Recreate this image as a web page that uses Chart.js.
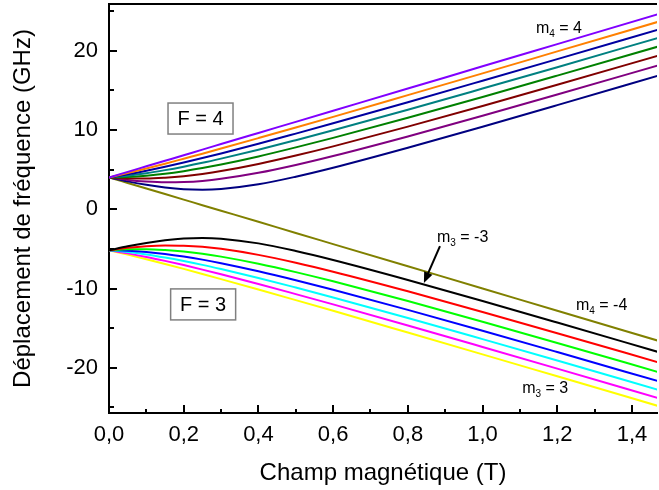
<!DOCTYPE html>
<html lang="fr">
<head>
<meta charset="utf-8">
<title>Déplacement Zeeman - F = 4 / F = 3</title>
<script src="https://cdn.jsdelivr.net/npm/chart.js@4.4.1/dist/chart.umd.min.js"></script>
<style>
  body { margin: 0; background: #fff; }
  #wrap { width: 659px; height: 490px; }
</style>
</head>
<body>
<div id="wrap"><canvas id="zeemanChart" width="659" height="490"></canvas></div>
<script>
// champ magnétique (T)
const fieldT = [0, 0.05, 0.1, 0.15, 0.2, 0.25, 0.3, 0.4, 0.5, 0.6, 0.8, 1.0, 1.2, 1.47];

// F = 4 (GHz), m4 = 4 ... -4
const f4_m4  = [4.02, 4.72, 5.42, 6.12, 6.82, 7.53, 8.23, 9.63, 11.03, 12.43, 15.23, 18.04, 20.84, 24.62];
const f4_m3  = [4.02, 4.57, 5.15, 5.75, 6.38, 7.01, 7.66, 8.98, 10.31, 11.66, 14.40, 17.15, 19.92, 23.66];
const f4_m2  = [4.02, 4.41, 4.86, 5.36, 5.90, 6.46, 7.05, 8.27, 9.55, 10.85, 13.51, 16.22, 18.95, 22.67];
const f4_m1  = [4.02, 4.24, 4.55, 4.94, 5.38, 5.86, 6.39, 7.51, 8.72, 9.97, 12.56, 15.23, 17.93, 21.63];
const f4_m0  = [4.02, 4.07, 4.23, 4.48, 4.81, 5.20, 5.65, 6.67, 7.81, 9.01, 11.54, 14.17, 16.86, 20.53];
const f4_mm1 = [4.02, 3.90, 3.88, 3.98, 4.17, 4.46, 4.82, 5.72, 6.78, 7.94, 10.43, 13.04, 15.71, 19.38];
const f4_mm2 = [4.02, 3.71, 3.51, 3.41, 3.44, 3.58, 3.84, 4.60, 5.59, 6.72, 9.19, 11.80, 14.48, 18.16];
const f4_mm3 = [4.02, 3.52, 3.09, 2.75, 2.53, 2.47, 2.56, 3.15, 4.11, 5.24, 7.76, 10.42, 13.14, 16.85];
const f4_mm4 = [4.02, 3.32, 2.62, 1.92, 1.22, 0.52, -0.18, -1.58, -2.99, -4.39, -7.19, -9.99, -12.80, -16.58];

// F = 3 (GHz), m3 = -3 ... 3
const f3_mm3 = [-5.17, -4.67, -4.24, -3.90, -3.68, -3.62, -3.71, -4.30, -5.26, -6.39, -8.91, -11.57, -14.29, -18.00];
const f3_mm2 = [-5.17, -4.86, -4.65, -4.56, -4.59, -4.73, -4.99, -5.75, -6.74, -7.87, -10.34, -12.95, -15.63, -19.30];
const f3_mm1 = [-5.17, -5.05, -5.03, -5.13, -5.32, -5.61, -5.97, -6.87, -7.93, -9.09, -11.58, -14.19, -16.86, -20.53];
const f3_m0  = [-5.17, -5.22, -5.38, -5.63, -5.96, -6.35, -6.80, -7.82, -8.95, -10.16, -12.69, -15.32, -18.01, -21.68];
const f3_m1  = [-5.17, -5.39, -5.70, -6.09, -6.53, -7.01, -7.54, -8.66, -9.87, -11.12, -13.71, -16.38, -19.08, -22.78];
const f3_m2  = [-5.17, -5.56, -6.01, -6.51, -7.04, -7.61, -8.20, -9.42, -10.70, -12.00, -14.66, -17.37, -20.10, -23.82];
const f3_m3  = [-5.17, -5.72, -6.30, -6.90, -7.52, -8.16, -8.81, -10.12, -11.46, -12.81, -15.55, -18.30, -21.07, -24.81];

const series = [
    { label: 'F=4, m=4',  data: f4_m4,  color: '#8000FF' },
    { label: 'F=4, m=3',  data: f4_m3,  color: '#FF8000' },
    { label: 'F=4, m=2',  data: f4_m2,  color: '#0000A0' },
    { label: 'F=4, m=1',  data: f4_m1,  color: '#008080' },
    { label: 'F=4, m=0',  data: f4_m0,  color: '#008000' },
    { label: 'F=4, m=-1', data: f4_mm1, color: '#800000' },
    { label: 'F=4, m=-2', data: f4_mm2, color: '#800080' },
    { label: 'F=4, m=-3', data: f4_mm3, color: '#000080' },
    { label: 'F=4, m=-4', data: f4_mm4, color: '#808000' },
    { label: 'F=3, m=-3', data: f3_mm3, color: '#000000' },
    { label: 'F=3, m=-2', data: f3_mm2, color: '#FF0000' },
    { label: 'F=3, m=-1', data: f3_mm1, color: '#00FF00' },
    { label: 'F=3, m=0',  data: f3_m0,  color: '#0000FF' },
    { label: 'F=3, m=1',  data: f3_m1,  color: '#00FFFF' },
    { label: 'F=3, m=2',  data: f3_m2,  color: '#FF00FF' },
    { label: 'F=3, m=3',  data: f3_m3,  color: '#FFFF00' }
];

const FONT = "'Liberation Sans', Arial, sans-serif";

// text boxes and m labels, placed in data units (T, GHz)
const boxes = [
    { text: 'F = 4', x: 0.245, y: 11.45 },
    { text: 'F = 3', x: 0.252, y: -12.0 }
];
const mLabels = [
    { sub: '4', rest: ' = 4',  x: 1.143, y: 22.2 },
    { sub: '4', rest: ' = -4', x: 1.250, y: -12.7 },
    { sub: '3', rest: ' = 3',  x: 1.106, y: -23.2 },
    { sub: '3', rest: ' = -3', x: 0.878, y: -4.1 }
];
const arrow = { from: [0.886, -4.65], to: [0.843, -9.3] };

const decorPlugin = {
    id: 'decor',
    afterDatasetsDraw(chart) {
        const ctx = chart.ctx;
        const a = chart.chartArea;
        const xs = chart.scales.x, ys = chart.scales.y;
        ctx.save();
        ctx.strokeStyle = '#000';
        ctx.lineWidth = 2;

        // top frame
        ctx.beginPath();
        ctx.moveTo(a.left - 1, a.top);
        ctx.lineTo(a.right, a.top);
        ctx.stroke();

        // inside ticks, x
        for (let i = 0; i <= 14; i++) {
            const px = Math.round(xs.getPixelForValue(i / 10));
            const len = i % 2 === 0 ? 8 : 4;
            ctx.beginPath();
            ctx.moveTo(px, a.bottom);
            ctx.lineTo(px, a.bottom - len);
            ctx.stroke();
        }
        // inside ticks, y
        for (let v = -25; v <= 25; v += 5) {
            const py = Math.round(ys.getPixelForValue(v));
            const len = v % 10 === 0 ? 8 : 5;
            ctx.beginPath();
            ctx.moveTo(a.left, py);
            ctx.lineTo(a.left + len, py);
            ctx.stroke();
        }

        // F boxes
        ctx.font = '20px ' + FONT;
        ctx.textAlign = 'center';
        ctx.textBaseline = 'middle';
        boxes.forEach(b => {
            const cx = xs.getPixelForValue(b.x), cy = ys.getPixelForValue(b.y);
            ctx.fillStyle = '#fff';
            ctx.fillRect(cx - 32.5, cy - 15.5, 65, 31);
            ctx.strokeStyle = '#808080';
            ctx.lineWidth = 1.5;
            ctx.strokeRect(cx - 32.5, cy - 15.5, 65, 31);
            ctx.fillStyle = '#000';
            ctx.fillText(b.text, cx, cy + 1);
        });

        // m labels with subscript
        ctx.textAlign = 'left';
        ctx.textBaseline = 'alphabetic';
        ctx.fillStyle = '#000';
        mLabels.forEach(l => {
            let px = xs.getPixelForValue(l.x);
            const py = ys.getPixelForValue(l.y);
            ctx.font = '16px ' + FONT;
            ctx.fillText('m', px, py);
            px += ctx.measureText('m').width;
            ctx.font = '10px ' + FONT;
            ctx.fillText(l.sub, px, py + 4);
            px += ctx.measureText(l.sub).width;
            ctx.font = '16px ' + FONT;
            ctx.fillText(l.rest, px, py);
        });

        // arrow to m3 = -3
        const x0 = xs.getPixelForValue(arrow.from[0]), y0 = ys.getPixelForValue(arrow.from[1]);
        const x1 = xs.getPixelForValue(arrow.to[0]), y1 = ys.getPixelForValue(arrow.to[1]);
        const ang = Math.atan2(y1 - y0, x1 - x0);
        ctx.strokeStyle = '#000';
        ctx.lineWidth = 2;
        ctx.beginPath();
        ctx.moveTo(x0, y0);
        ctx.lineTo(x1 - 8 * Math.cos(ang), y1 - 8 * Math.sin(ang));
        ctx.stroke();
        ctx.beginPath();
        ctx.moveTo(x1, y1);
        ctx.lineTo(x1 - 11 * Math.cos(ang) + 4.5 * Math.sin(ang), y1 - 11 * Math.sin(ang) - 4.5 * Math.cos(ang));
        ctx.lineTo(x1 - 11 * Math.cos(ang) - 4.5 * Math.sin(ang), y1 - 11 * Math.sin(ang) + 4.5 * Math.cos(ang));
        ctx.closePath();
        ctx.fill();

        ctx.restore();
    }
};

const ctx = document.getElementById('zeemanChart');
const zeemanChart = new Chart(ctx, {
    type: 'line',
    data: {
        datasets: series.map(s => ({
            label: s.label,
            data: fieldT.map((b, i) => ({ x: b, y: s.data[i] })),
            borderColor: s.color,
            borderWidth: 2,
            pointRadius: 0,
            fill: false,
            cubicInterpolationMode: 'monotone'
        }))
    },
    options: {
        responsive: false,
        devicePixelRatio: 1,
        animation: false,
        layout: { padding: { left: 0, top: 4, right: 2, bottom: 0 } },
        plugins: {
            legend: { display: false },
            tooltip: { enabled: false }
        },
        scales: {
            x: {
                type: 'linear',
                min: 0,
                max: 1.467,
                afterFit: scale => {
                    scale.height = 77;
                    scale.paddingLeft = 0;
                    scale.paddingRight = 0;
                },
                grid: { display: false, drawTicks: false },
                border: { display: true, color: '#000', width: 2 },
                ticks: {
                    stepSize: 0.2,
                    includeBounds: false,
                    padding: 9,
                    color: '#000',
                    font: { family: FONT, size: 22 },
                    maxRotation: 0,
                    callback: v => v.toFixed(1).replace('.', ',')
                },
                title: {
                    display: true,
                    text: 'Champ magnétique (T)',
                    color: '#000',
                    font: { family: FONT, size: 24 },
                    padding: { top: 0, bottom: 2 }
                }
            },
            y: {
                min: -25.7,
                max: 25.9,
                afterFit: scale => {
                    scale.width = 109;
                    scale.paddingTop = 0;
                    scale.paddingBottom = 0;
                },
                grid: { display: false, drawTicks: false },
                border: { display: true, color: '#000', width: 2 },
                ticks: {
                    stepSize: 10,
                    includeBounds: false,
                    padding: 11,
                    color: '#000',
                    font: { family: FONT, size: 22 }
                },
                title: {
                    display: true,
                    text: 'Déplacement de fréquence (GHz)',
                    color: '#000',
                    font: { family: FONT, size: 24 },
                    padding: { top: 9, bottom: 0 }
                }
            }
        }
    },
    plugins: [decorPlugin]
});
</script>
</body>
</html>
